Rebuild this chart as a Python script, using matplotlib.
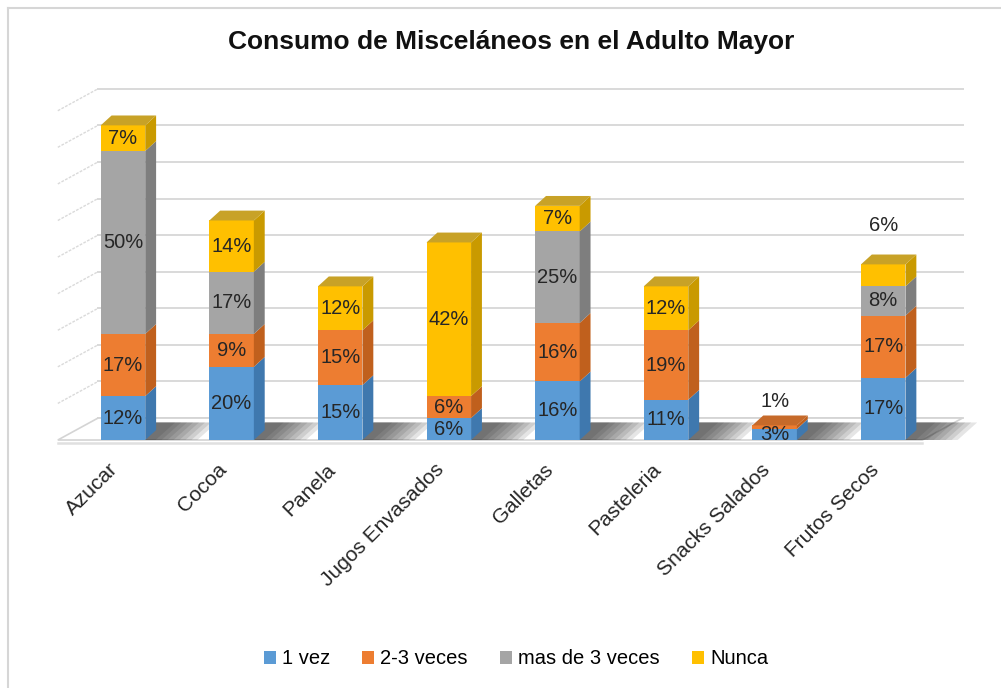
import numpy as np
import matplotlib.pyplot as plt
from matplotlib.patches import Polygon, Patch
from matplotlib.lines import Line2D

plt.rcParams['font.family'] = ['Liberation Sans', 'DejaVu Sans']

categorias = ["Azucar", "Cocoa", "Panela", "Jugos Envasados", "Galletas",
              "Pasteleria", "Snacks Salados", "Frutos Secos"]
series = ["1 vez", "2-3 veces", "mas de 3 veces", "Nunca"]
una_vez = [12, 20, 15, 6, 16, 11, 3, 17]
dos_tres = [17, 9, 15, 6, 16, 19, 1, 17]
mas_de_3 = [50, 17, 0, 0, 25, 0, 0, 8]
nunca = [7, 14, 12, 42, 7, 12, 0, 6]

valores = [una_vez, dos_tres, mas_de_3, nunca]
colores = ["#5B9BD5", "#ED7D31", "#A5A5A5", "#FFC000"]
lados = ["#3F78AE", "#C0601D", "#7E7E7E", "#C99A00"]
techos = ["#4A86BE", "#C66A2A", "#8C8C8C", "#C8A227"]

fig = plt.figure(figsize=(10.01, 6.88), dpi=100)
W, H = 1001, 688
ax = fig.add_axes([40 / W, (H - 450) / H, 940 / W, 370 / H])
ax.set_xlim(-0.764, 7.891)
ax.set_ylim(-2.73, 98.4)
ax.axis("off")

x = np.arange(len(categorias))
ancho = 0.41
# profundidad de las barras y de las paredes (en unidades de datos)
bdx, bdy = 0.10, 2.7
wdx, wdy = 0.37, 6.0
xl, xr = -0.60, 7.36

# piso y paredes
ax.add_patch(Polygon([(xl, 0), (xr, 0), (xr + wdx, wdy), (xl + wdx, wdy)],
                     closed=True, facecolor="white", edgecolor="#D4D4D4",
                     lw=1.2, zorder=1))
ax.plot([xl, xr], [-0.8, -0.8], color="#E0E0E0", lw=1.8, zorder=1)
for k in range(0, 10):
    v = 10 * k
    ax.plot([xl + wdx, xr + wdx], [v + wdy, v + wdy], color="#D9D9D9",
            lw=1.4, zorder=0)
    if k > 0:
        ax.plot([xl, xl + wdx], [v, v + wdy], color="#DADADA", lw=1.0,
                ls=(0, (2, 1)), zorder=0)

# sombras sobre el piso
for i in x:
    r = i + ancho / 2
    for j in range(8):
        s = 0.48 - j * 0.055
        ax.add_patch(Polygon([(r, 0.0), (r + s, 0.0),
                              (r + s + 0.18, wdy * 0.8), (r + 0.1, wdy * 0.8)],
                             closed=True, facecolor="#1A1A1A", alpha=0.11,
                             edgecolor="none", zorder=2))

# barras apiladas
base = np.zeros(len(categorias))
for s, vals in enumerate(valores):
    vals = np.array(vals, dtype=float)
    ax.bar(x, vals, width=ancho, bottom=base, color=colores[s],
           edgecolor="none", zorder=3)
    for i in x:
        if vals[i] <= 0:
            continue
        r = i + ancho / 2
        b, t = base[i], base[i] + vals[i]
        ax.add_patch(Polygon([(r, b), (r + bdx, b + bdy), (r + bdx, t + bdy),
                              (r, t)], closed=True, facecolor=lados[s],
                             edgecolor="none", zorder=3))
    base = base + vals

# techo de cada barra
for i in x:
    for s in range(3, -1, -1):
        if valores[s][i] > 0:
            break
    t = base[i]
    l, r = i - ancho / 2, i + ancho / 2
    ax.add_patch(Polygon([(l, t), (r, t), (r + bdx, t + bdy), (l + bdx, t + bdy)],
                         closed=True, facecolor=techos[s], edgecolor="none",
                         zorder=4))

# etiquetas de porcentaje
base = np.zeros(len(categorias))
for s, vals in enumerate(valores):
    for i in x:
        v = vals[i]
        if v > 0:
            yv = base[i] + v / 2
            if categorias[i] == "Frutos Secos" and s == 3:
                yv = base[i] + v + 10.5
            if categorias[i] == "Snacks Salados" and s == 1:
                yv = base[i] + v + 6.5
            ax.text(i, yv, f"{v}%", ha="center", va="center",
                    fontsize=14.5, color="#262626", zorder=6)
        base[i] += v

# nombres de categorias
for i, c in enumerate(categorias):
    ax.text(i - 0.07, -7.3, c, rotation=45, ha="right", va="center",
            rotation_mode="anchor", fontsize=15, color="#262626",
            clip_on=False)

fig.text(511 / W, 1 - 42 / H, "Consumo de Misceláneos en el Adulto Mayor",
         ha="center", va="center", fontsize=19, fontweight="bold",
         color="#111111")

manejadores = [Patch(facecolor=c, edgecolor="none") for c in colores]
fig.legend(manejadores, series, loc="center", ncol=4,
           bbox_to_anchor=(516 / W, 1 - 659 / H), frameon=False,
           fontsize=14.5, handlelength=0.6, handleheight=0.6,
           handletextpad=0.3, columnspacing=1.6)

# marco del grafico
fig.add_artist(Line2D([8 / W, 8 / W], [0, 1 - 8 / H], color="#D6D6D6", lw=1.5))
fig.add_artist(Line2D([8 / W, 1], [1 - 8 / H, 1 - 8 / H], color="#D6D6D6", lw=1.5))

fig.savefig("out.png", dpi=100)
